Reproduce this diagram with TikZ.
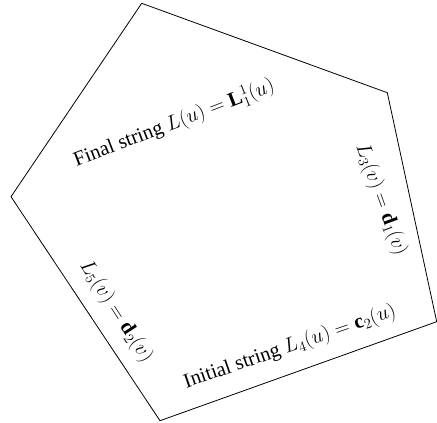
\documentclass[tikz,border=0pt]{standalone}
\usepackage{amsmath,amssymb}
\usepackage{fontspec}
\setmainfont{Liberation Serif}
\usepackage{tikz}
\usetikzlibrary{calc}
\tikzset{
  edge/.style={draw,line width=0.8pt,line join=miter},
  lbl/.style={font=\fontsize{20.5}{24}\selectfont,inner sep=1pt}
}
\begin{document}
\begin{tikzpicture}[x=1pt,y=-1pt]
\useasboundingbox (0,0) rectangle (437,423);
\coordinate (top) at (141.7,3.3);
\coordinate (rt) at (387.3,92.7);
\coordinate (rb) at (436.7,321.7);
\coordinate (bot) at (160,420.7);
\coordinate (lf) at (11,196.7);
\draw[edge] (top) -- (rt) -- (rb) -- (bot) -- (lf) -- cycle;
\node[lbl,rotate=21] (fin) at (174,123) {Final string $L(u) = \mathbf{L}_1^1(u)$};
\node[lbl,rotate=-70] (l3) at (381,200) {$L_3(v) = \mathbf{d}_1(v)$};
\node[lbl,rotate=19] (ini) at (290,347) {Initial string $L_4(u) = \mathbf{c}_2(u)$};
\node[lbl,rotate=-57] (l5) at (116,312) {$L_5(v) = \mathbf{d}_2(v)$};
\end{tikzpicture}
\end{document}
